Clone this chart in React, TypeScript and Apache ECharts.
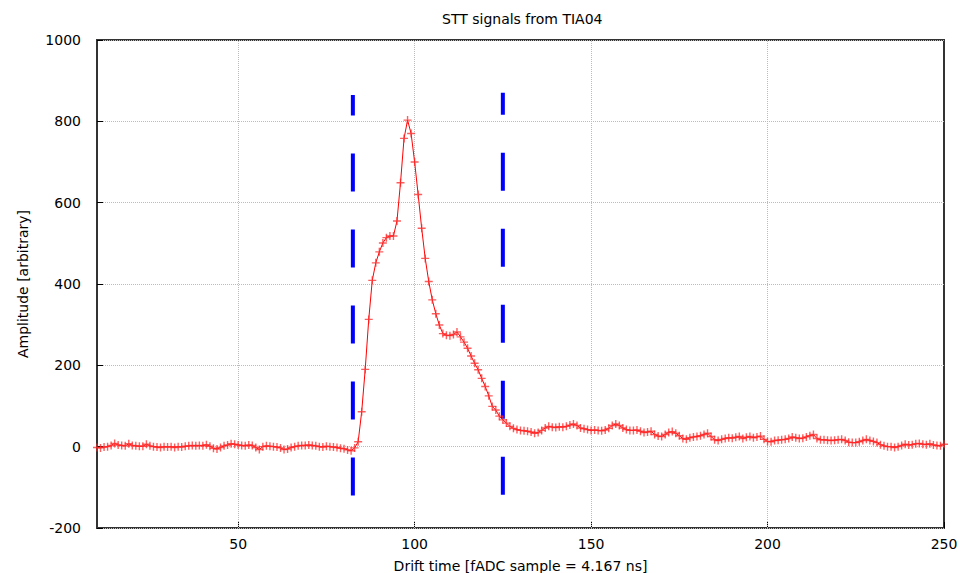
import React, { useEffect, useRef } from "react";
import * as echarts from "echarts";

const xStart = 10;
const amplitude: number[] = [
  -2, -3, -1, 0, 3, 8, 4, 3, 2, 7, // 10-19
  3, 2, 1, 1, 6, 2, 0, -1, -2, 0, // 20-29
  -1, 0, -2, 0, -1, 1, 2, 3, 2, 3, // 30-39
  2, 5, 1, -4, -6, -2, 2, 4, 7, 6, // 40-49
  4, 3, 2, 4, 3, -2, -7, 0, 2, 1, // 50-59
  0, -1, -3, -7, -6, -2, 0, 2, 3, 3, // 60-69
  4, 3, 2, 0, -1, 1, 0, -1, -2, -4, // 70-79
  -5, -8, -10, -3, 12, 86, 190, 313, 409, 452, // 80-89
  479, 501, 514, 518, 518, 555, 649, 758, 803, 770, // 90-99
  700, 620, 537, 463, 406, 361, 327, 299, 278, 274, // 100-109
  273, 276, 282, 270, 257, 242, 223, 205, 189, 168, // 110-119
  148, 125, 99, 90, 75, 66, 58, 50, 45, 42, // 120-129
  40, 39, 38, 36, 33, 35, 40, 46, 50, 48, // 130-139
  47, 49, 48, 50, 53, 56, 52, 46, 44, 42, // 140-149
  40, 41, 40, 39, 41, 45, 52, 56, 52, 46, // 150-159
  42, 40, 40, 41, 38, 35, 36, 38, 30, 26, // 160-169
  25, 30, 35, 37, 33, 27, 20, 18, 22, 24, // 170-179
  25, 27, 30, 33, 25, 17, 15, 18, 20, 22, // 180-189
  21, 23, 25, 20, 23, 25, 22, 24, 26, 18, // 190-199
  13, 12, 15, 16, 17, 18, 20, 24, 22, 20, // 200-209
  21, 24, 27, 30, 20, 17, 17, 16, 15, 16, // 210-219
  17, 18, 15, 11, 10, 10, 12, 15, 18, 15, // 220-229
  13, 10, 5, 2, 0, 0, -2, 0, 3, 6, // 230-239
  4, 5, 7, 8, 6, 5, 7, 4, 3, 2, // 240-249
  6, // 250
];

const markerLeftX = 82.5;
const markerLeftY = [-120, 865];
const markerRightX = 125;
const markerRightY = [-118, 870];

const xTicks = [50, 100, 150, 200, 250];
const xGrid = [50, 100, 150, 200];

const titleText = "STT signals from TIA04";
const xName = "Drift time [fADC sample = 4.167 ns]";
const yName = "Amplitude [arbitrary]";

const FONT = "DejaVu Sans";

export default function App() {
  const ref = useRef<HTMLDivElement>(null);
  useEffect(() => {
    if (!ref.current) return;
    const chart = echarts.init(ref.current, null, { renderer: "svg" });
    const signal = amplitude.map((v, i) => [xStart + i, v]);
    chart.setOption({
      animation: false,
      backgroundColor: "#ffffff",
      title: {
        text: titleText,
        left: 437,
        top: 7,
        textStyle: { fontFamily: FONT, fontSize: 14, fontWeight: "normal", color: "#000" },
      },
      grid: {
        left: 97,
        right: 25,
        top: 40,
        bottom: 45,
        outerBoundsMode: "none",
        containLabel: false,
        show: true,
        borderColor: "#333",
        borderWidth: 2,
        backgroundColor: "transparent",
      },
      xAxis: {
        type: "value",
        min: 10,
        max: 250,
        name: xName,
        nameLocation: "middle",
        nameGap: 31,
        nameTextStyle: { fontFamily: FONT, fontSize: 14, color: "#000" },
        axisLine: { show: false, onZero: false },
        axisTick: {
          show: true,
          inside: true,
          length: 6,
          lineStyle: { color: "#000" },
          customValues: xTicks,
        },
        axisLabel: {
          customValues: xTicks,
          fontFamily: FONT,
          fontSize: 14,
          color: "#000",
          margin: 9,
          formatter: (v: number) => String(v),
        },
        splitLine: { show: false },
      },
      yAxis: {
        type: "value",
        min: -200,
        max: 1000,
        interval: 200,
        name: yName,
        nameLocation: "middle",
        nameGap: 67,
        nameTextStyle: { fontFamily: FONT, fontSize: 14, color: "#000" },
        axisLine: { show: false, onZero: false },
        axisTick: { show: true, inside: true, length: 6, lineStyle: { color: "#000" } },
        axisLabel: {
          fontFamily: FONT,
          fontSize: 14,
          color: "#000",
          margin: 16,
          formatter: (v: number) => String(v),
        },
        splitLine: { show: true, lineStyle: { color: "#bbb", type: "dotted", width: 1 } },
      },
      series: [
        {
          type: "line",
          data: signal,
          symbol: "path://M5,0L5,10M0,5L10,5",
          symbolSize: 8,
          showSymbol: true,
          lineStyle: { color: "#ff0000", width: 1 },
          itemStyle: { color: "rgba(0,0,0,0)", borderColor: "rgba(255,40,40,0.75)", borderWidth: 1.4 },
          z: 3,
          markLine: {
            silent: true,
            symbol: "none",
            label: { show: false },
            lineStyle: { color: "#bbb", type: "dotted", width: 1 },
            data: xGrid.map((v) => ({ xAxis: v })),
            z: 1,
          },
        },
        {
          type: "line",
          data: markerLeftY.map((y) => [markerLeftX, y]),
          symbol: "none",
          lineStyle: { color: "#0000ff", width: 4, type: [38, 38] },
          z: 2,
        },
        {
          type: "line",
          data: markerRightY.map((y) => [markerRightX, y]),
          symbol: "none",
          lineStyle: { color: "#0000ff", width: 4, type: [38, 38] },
          z: 2,
        },
      ],
    });
    return () => chart.dispose();
  }, []);
  return <div ref={ref} style={{ width: 969, height: 573, position: "absolute", left: 0, top: 0 }} />;
}
